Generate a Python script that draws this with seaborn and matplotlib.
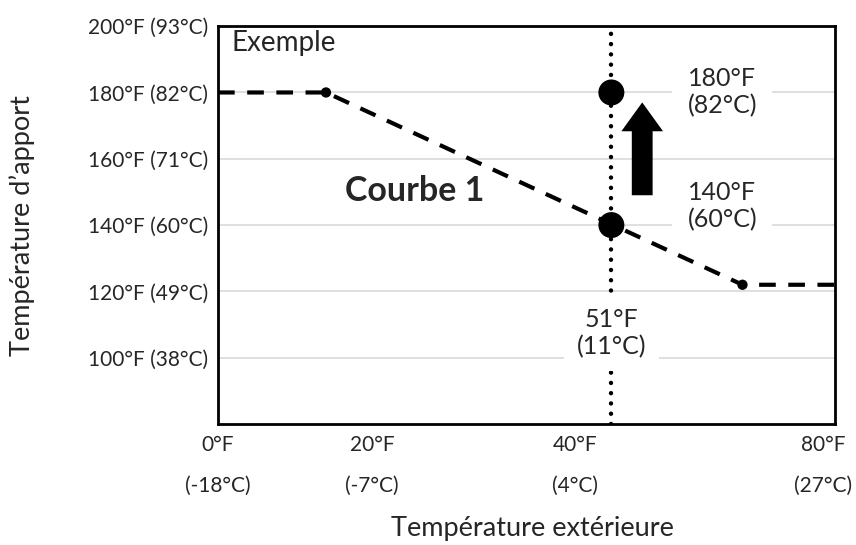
import matplotlib
matplotlib.use("Agg")
import matplotlib.pyplot as plt
import matplotlib.transforms as mtransforms
import seaborn as sns
import pandas as pd

# reset curve (outdoor temp °F -> supply temp °F)
curve_x = [0, 14, 68, 80]
curve_y = [180, 180, 122, 122]
corner_x = [14, 68]
corner_y = [180, 122]

# example point: 51°F outdoor, supply raised from 140 to 180
design_x = 51
point_y = [140, 180]
arrow_x = 55
arrow_from, arrow_to = 149, 177

xtick_pos = [0, 20, 46.3, 78.5]
xtick_f = ["0°F", "20°F", "40°F", "80°F"]
xtick_c = ["(-18°C)", "(-7°C)", "(4°C)", "(27°C)"]
ytick_pos = [100, 120, 140, 160, 180, 200]
ytick_lab = ["100°F (38°C)", "120°F (49°C)", "140°F (60°C)",
             "160°F (71°C)", "180°F (82°C)", "200°F (93°C)"]

sns.set_style("white")
plt.rcParams['font.family'] = ['Lato', 'DejaVu Sans']

fig = plt.figure(figsize=(8.56, 5.45), dpi=100)
ax = fig.add_axes([0.2547, 0.222, 0.7208, 0.730])

# gridlines
for y in ytick_pos[:-1]:
    ax.axhline(y, color="#d9d9d9", lw=1.2, zorder=0)

# vertical dotted line at design temp
ax.axvline(design_x, color="black", lw=3.2, linestyle=(0, (0.01, 2.3)),
           dash_capstyle="round", zorder=2)

df = pd.DataFrame({"x": curve_x, "y": curve_y})
sns.lineplot(data=df, x="x", y="y", ax=ax, color="black", lw=3,
             linestyle=(0, (4, 3)), zorder=3)
sns.scatterplot(x=corner_x, y=corner_y, ax=ax, color="black", s=55,
                edgecolor="none", zorder=4)
sns.scatterplot(x=[design_x] * 2, y=point_y, ax=ax, color="black", s=350,
                edgecolor="none", zorder=5)

ax.arrow(arrow_x, arrow_from, 0, arrow_to - arrow_from, width=2.7,
         head_width=5.4, head_length=8.7, length_includes_head=True,
         fc="black", ec="none", zorder=5)

# texts
ax.text(1.8, 194.8, "Exemple", fontsize=20, va="center", ha="left")
ax.text(25.5, 150.2, "Courbe 1", fontsize=24.5, fontweight="bold",
        va="center", ha="center")
ax.text(65.4, 180, "180°F\n(82°C)", fontsize=18, ha="center", va="center",
        linespacing=1.2, bbox=dict(fc="white", ec="none", pad=11), zorder=3)
ax.text(65.4, 145.8, "140°F\n(60°C)", fontsize=18, ha="center", va="center",
        linespacing=1.2, bbox=dict(fc="white", ec="none", pad=11), zorder=3)
ax.text(design_x, 107.3, "51°F\n(11°C)", fontsize=18, ha="center", va="center",
        linespacing=1.2, bbox=dict(fc="white", ec="none", pad=9), zorder=3)

ax.set_xlim(0, 80)
ax.set_ylim(80, 200)
ax.set_xticks(xtick_pos)
ax.set_xticklabels(xtick_f, fontsize=15)
ax.set_yticks(ytick_pos)
ax.set_yticklabels(ytick_lab, fontsize=15)
ax.tick_params(axis="both", length=0)
ax.tick_params(axis="x", pad=8)
ax.tick_params(axis="y", pad=7)

# second row of x labels (°C)
trans = mtransforms.blended_transform_factory(ax.transData, ax.transAxes)
for xp, c in zip(xtick_pos, xtick_c):
    ax.text(xp, -0.156, c, transform=trans, fontsize=15,
            ha="center", va="center")

for s in ax.spines.values():
    s.set_color("black")
    s.set_linewidth(2)

ax.set_xlabel("Température extérieure", fontsize=19.5)
ax.set_ylabel("Température d’apport", fontsize=19.5)
ax.xaxis.set_label_coords(0.51, -0.232)
ax.yaxis.set_label_coords(-0.297, 0.5)

fig.savefig("out.png", dpi=100)
